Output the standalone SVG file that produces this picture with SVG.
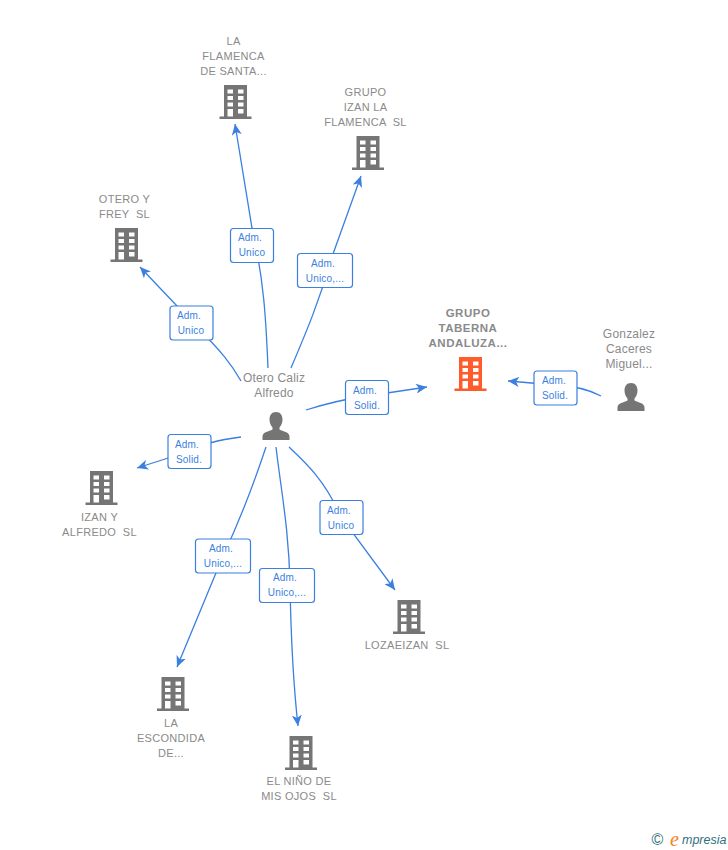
<svg xmlns="http://www.w3.org/2000/svg" width="728" height="850" viewBox="0 0 728 850">
<style>
text{font-family:"Liberation Sans",Arial,sans-serif;white-space:pre}
.n{font-size:11px;fill:#8a8a8a;text-anchor:middle;letter-spacing:.3px}
.p{font-size:12px;letter-spacing:.2px}
.b{font-weight:bold;font-size:11.500px;letter-spacing:.5px}
.l{font-size:10px;fill:#3b7fe0;text-anchor:middle;letter-spacing:.2px}
.c{fill:none;stroke:#3b7fe0;stroke-width:1.300}
.r{fill:#fff;stroke:#3b7fe0;stroke-width:1.200}
.g{fill:#757575}.o{fill:#ff5b2b}
</style>
<defs>
<marker id="a" viewBox="0 0 12 10" refX="11" refY="5" markerWidth="12" markerHeight="10" markerUnits="userSpaceOnUse" orient="auto"><path d="M0 0L11 5L0 10L3 5Z" fill="#3b7fe0"/></marker>
<path id="bld" fill-rule="evenodd" d="M-11.500 0H11.500V31.500H16V34H-16V31.500H-11.500ZM-8 4.500V8.500H-2.500V4.500ZM2.500 4.500V8.500H8V4.500ZM-8 11V15H-2.500V11ZM2.500 11V15H8V11ZM-8 17.500V21.500H-2.500V17.500ZM2.500 17.500V21.500H8V17.500ZM-8 24V31.500H-2.500V24ZM2.500 24V28.500H8V24Z"/>
<path id="per" d="M0 0C4.500 0 6.500 3.500 6.500 7.500C6.500 11 5 14 3.500 15.500V17.500C7 19.500 13.500 20 13.500 24.500V28H-13.500V24.500C-13.500 20 -7 19.500 -3.500 17.500V15.500C-5 14 -6.500 11 -6.500 7.500C-6.500 3.500 -4.500 0 0 0Z"/>
</defs>
<g id="connectors">
<path class="c" marker-end="url(#a)" d="M268 368C266 320 264 280 252 228L235 124"/>
<path class="c" marker-end="url(#a)" d="M291 368C305 335 320 300 333 254L361 176"/>
<path class="c" marker-end="url(#a)" d="M241 381C232 365 222 352 195 325L140 267"/>
<path class="c" marker-end="url(#a)" d="M306 410C325 404 345 399 367 396L427 387"/>
<path class="c" marker-end="url(#a)" d="M601 396C590 390 575 386 555 385L508 381"/>
<path class="c" marker-end="url(#a)" d="M241 437C225 439 205 442 190 451L137 468"/>
<path class="c" marker-end="url(#a)" d="M289 447C305 462 325 480 341 517L395 590"/>
<path class="c" marker-end="url(#a)" d="M266 447C255 480 240 520 223 556L177 667"/>
<path class="c" marker-end="url(#a)" d="M276 447C281 490 289 530 290 585C291 640 294 690 298 726"/>
</g>
<g id="edge-labels">
<g><rect class="r" x="230.500" y="228.500" width="43" height="34" rx="3"/><text class="l" x="250" y="241">Adm.</text><text class="l" x="252" y="256">Unico</text></g>
<g><rect class="r" x="297.500" y="253.500" width="55" height="34" rx="3"/><text class="l" x="323" y="267">Adm.</text><text class="l" x="325" y="282">Unico,...</text></g>
<g><rect class="r" x="170" y="306" width="43" height="34" rx="3"/><text class="l" x="189" y="319">Adm.</text><text class="l" x="191" y="334">Unico</text></g>
<g><rect class="r" x="345.500" y="380.500" width="43" height="34" rx="3"/><text class="l" x="365" y="394">Adm.</text><text class="l" x="367" y="409">Solid.</text></g>
<g><rect class="r" x="534" y="371" width="43" height="34" rx="3"/><text class="l" x="554" y="384">Adm.</text><text class="l" x="555" y="399">Solid.</text></g>
<g><rect class="r" x="168" y="434.500" width="43" height="34" rx="3"/><text class="l" x="187" y="448">Adm.</text><text class="l" x="189" y="463">Solid.</text></g>
<g><rect class="r" x="320" y="500.500" width="43" height="34" rx="3"/><text class="l" x="339" y="514">Adm.</text><text class="l" x="341" y="529">Unico</text></g>
<g><rect class="r" x="195.500" y="539" width="55" height="34" rx="3"/><text class="l" x="221" y="552">Adm.</text><text class="l" x="223" y="567">Unico,...</text></g>
<g><rect class="r" x="259.500" y="568.500" width="55" height="34" rx="3"/><text class="l" x="285" y="581">Adm.</text><text class="l" x="287" y="596">Unico,...</text></g>
</g>
<g id="n-flamenca-santa"><use href="#bld" class="g" x="235.500" y="85"/><text class="n" x="233.500" y="45">LA</text><text class="n" x="233.500" y="60">FLAMENCA</text><text class="n" x="233.500" y="75">DE SANTA...</text></g>
<g id="n-grupo-izan"><use href="#bld" class="g" x="368" y="136"/><text class="n" x="365.500" y="96">GRUPO</text><text class="n" x="365.500" y="111">IZAN LA</text><text class="n" x="365.500" y="126">FLAMENCA  SL</text></g>
<g id="n-otero-frey"><use href="#bld" class="g" x="126.500" y="228"/><text class="n" x="124.500" y="203">OTERO Y</text><text class="n" x="124.500" y="218">FREY  SL</text></g>
<g id="n-taberna"><use href="#bld" class="o" x="470.500" y="357"/><text class="n b" x="468" y="317">GRUPO</text><text class="n b" x="468" y="332">TABERNA</text><text class="n b" x="468" y="347">ANDALUZA...</text></g>
<g id="n-gonzalez"><use href="#per" class="g" x="631" y="383"/><text class="n p" x="629" y="338">Gonzalez</text><text class="n p" x="629" y="353">Caceres</text><text class="n p" x="629" y="368">Miguel...</text></g>
<g id="n-otero-caliz"><use href="#per" class="g" x="276" y="412"/><text class="n p" x="274" y="382">Otero Caliz</text><text class="n p" x="274" y="397">Alfredo</text></g>
<g id="n-izan-alfredo"><use href="#bld" class="g" x="101.500" y="471"/><text class="n" x="99.500" y="536">ALFREDO  SL</text><text class="n" x="99.500" y="521">IZAN Y</text></g>
<g id="n-lozaeizan"><use href="#bld" class="g" x="409" y="600"/><text class="n" x="407" y="649">LOZAEIZAN  SL</text></g>
<g id="n-escondida"><use href="#bld" class="g" x="173" y="677"/><text class="n" x="171" y="727">LA</text><text class="n" x="171" y="742">ESCONDIDA</text><text class="n" x="171" y="757">DE...</text></g>
<g id="n-nino"><use href="#bld" class="g" x="301" y="736"/><text class="n" x="299" y="785">EL NIÑO DE</text><text class="n" x="299" y="800">MIS OJOS  SL</text></g>
<g id="brand"><text x="657.500" y="845" font-size="16" fill="#2f6f7f" text-anchor="middle">©</text><text x="670" y="846" font-size="20" font-style="italic" fill="#f58220" style="font-family:'Liberation Serif',serif">e</text><text x="682" y="844" font-size="12.500" font-style="italic" fill="#2f6f7f">mpresia</text></g>
</svg>
